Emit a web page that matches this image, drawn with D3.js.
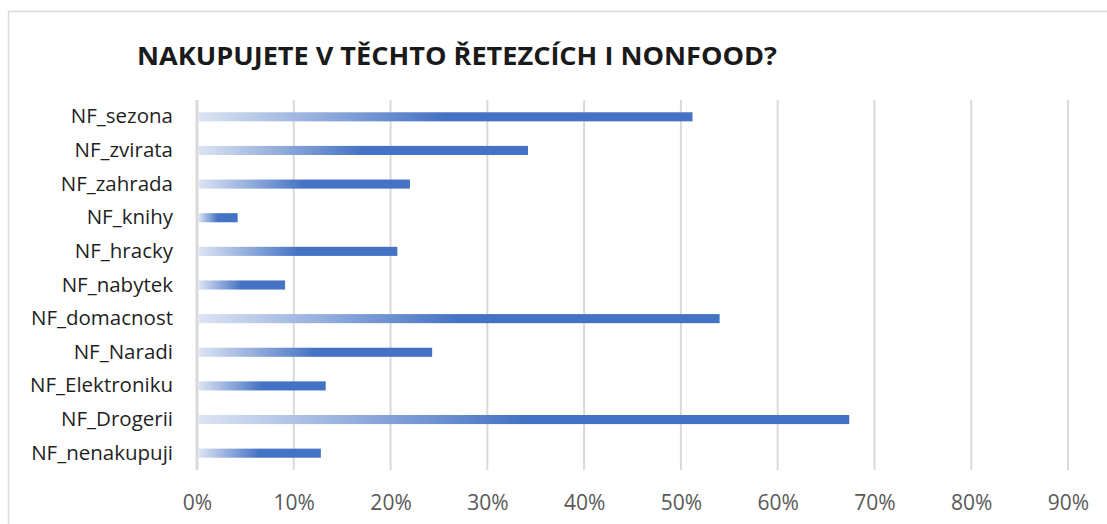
<!DOCTYPE html>
<html>
<head>
<meta charset="utf-8">
<script src="https://cdn.jsdelivr.net/npm/d3@7"></script>
<style>
  body { margin: 0; background: #fff; }
  svg { display: block; font-family: 'Open Sans', sans-serif; }
</style>
</head>
<body>
<svg id="canvas"></svg>
<script>
let categories = ['NF_sezona', 'NF_zvirata', 'NF_zahrada', 'NF_knihy', 'NF_hracky', 'NF_nabytek',
	'NF_domacnost', 'NF_Naradi', 'NF_Elektroniku', 'NF_Drogerii', 'NF_nenakupuji'];
let values = [0.512, 0.342, 0.22, 0.042, 0.207, 0.091, 0.54, 0.243, 0.133, 0.674, 0.128];
let tickValues = [0, 0.1, 0.2, 0.3, 0.4, 0.5, 0.6, 0.7, 0.8, 0.9];
let title = 'NAKUPUJETE V TĚCHTO ŘETEZCÍCH I NONFOOD?';

let width = 1107;
let height = 524;
let plotLeft = 197;
let plotRight = 1068;
let plotTop = 100;
let plotBottom = 470;

let canvas = d3.select('#canvas').attr('width', width).attr('height', height);

// chart frame
canvas.append('rect')
	.attr('x', 8.5).attr('y', 11.5)
	.attr('width', width + 10).attr('height', height + 10)
	.attr('fill', '#fff').attr('stroke', '#d9d9d9').attr('stroke-width', 1.5);

let xScale = d3.scaleLinear().domain([0, 0.9]).range([plotLeft, plotRight]);
let yScale = d3.scaleBand().domain(categories).range([plotTop, plotBottom]).paddingInner(0.73).paddingOuter(0.365);

let grad = canvas.append('defs').append('linearGradient').attr('id', 'barGrad')
	.attr('x1', '0%').attr('x2', '100%').attr('y1', '0%').attr('y2', '0%');
grad.append('stop').attr('offset', '0%').attr('stop-color', '#dce4f3');
grad.append('stop').attr('offset', '50%').attr('stop-color', '#4472c4');
grad.append('stop').attr('offset', '100%').attr('stop-color', '#4472c4');

// gridlines
canvas.append('g')
	.selectAll('line')
	.data(tickValues)
	.join('line')
	.attr('x1', d => xScale(d)).attr('x2', d => xScale(d))
	.attr('y1', plotTop).attr('y2', plotBottom)
	.attr('stroke', '#d9d9d9')
	.attr('stroke-width', d => d === 0 ? 3 : 2);

// x axis labels
let xAxis = d3.axisBottom(xScale).tickValues(tickValues).tickFormat(d3.format('.0%')).tickSize(0).tickPadding(25);
let gx = canvas.append('g').attr('transform', `translate(0, ${plotBottom})`).call(xAxis);
gx.select('.domain').remove();
gx.selectAll('text').attr('fill', '#595959').style('font-size', '21px').style('font-family', "'Open Sans', sans-serif");

// y axis labels
let yAxis = d3.axisLeft(yScale).tickSize(0).tickPadding(24);
let gy = canvas.append('g').attr('transform', `translate(${plotLeft}, 0)`).call(yAxis);
gy.select('.domain').remove();
gy.selectAll('text').attr('fill', '#1f1f1f').style('font-size', '20.5px').style('font-family', "'Open Sans', sans-serif");

// bars
canvas.append('g')
	.selectAll('rect')
	.data(categories)
	.join('rect')
	.attr('x', xScale(0) + 1.5)
	.attr('y', d => yScale(d))
	.attr('width', (d, i) => xScale(values[i]) - xScale(0) - 1.5)
	.attr('height', yScale.bandwidth())
	.attr('fill', 'url(#barGrad)');

// title
canvas.append('text')
	.attr('x', 137).attr('y', 65)
	.attr('fill', '#1a1a1a')
	.style('font-size', '25px').style('font-weight', 'bold')
	.attr('textLength', 640).attr('lengthAdjust', 'spacingAndGlyphs')
	.text(title);
</script>
</body>
</html>
